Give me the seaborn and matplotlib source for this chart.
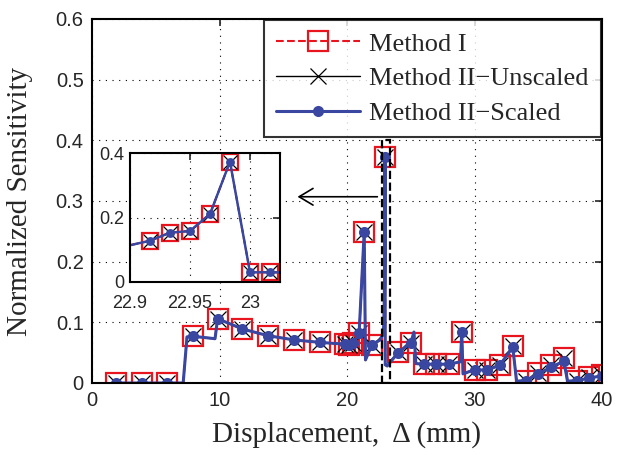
import numpy as np
import pandas as pd
import matplotlib
matplotlib.use('Agg')
import matplotlib.pyplot as plt
from matplotlib.lines import Line2D
from matplotlib.patches import Rectangle
import seaborn as sns

# Marked sample points in the main axes
pt_x = [1.9, 3.9, 5.9, 7.95, 9.85, 11.8, 13.8, 15.85, 17.85, 19.85, 20.15, 20.5,
        20.95, 21.35, 21.95, 22.9833, 24.0, 25.0, 26.0, 27.0, 28.0, 29.0, 30.0,
        31.0, 32.0, 33.0, 34.0, 35.0, 36.0, 37.0, 38.0, 39.0, 40.0]
method1_y = [0.0, 0.0, 0.0, 0.077, 0.106, 0.089, 0.078, 0.071, 0.067, 0.064, 0.062, 0.066,
             0.082, 0.249, 0.063, 0.373, 0.051, 0.066, 0.031, 0.031, 0.031, 0.084, 0.022,
             0.021, 0.030, 0.061, 0.004, 0.017, 0.030, 0.042, 0.004, 0.010, 0.014]
unscaled_y = method1_y
scaled_y = [0.0, 0.0, 0.0, 0.077, 0.106, 0.089, 0.078, 0.071, 0.067, 0.064, 0.062, 0.066,
            0.082, 0.249, 0.063, 0.373, 0.050, 0.066, 0.031, 0.031, 0.031, 0.084, 0.022,
            0.021, 0.030, 0.059, 0.004, 0.015, 0.026, 0.036, 0.004, 0.008, 0.012]

# Marked points in the zoomed inset
inset_x = [22.9167, 22.9333, 22.95, 22.9667, 22.9833, 23.0, 23.0167]
inset_y = [0.128, 0.153, 0.158, 0.211, 0.373, 0.030, 0.030]

# Finer sampled curve (line only)
line_x = [1.9, 3.9, 5.9, 7.15, 7.45, 7.95, 9.65, 9.85, 11.8, 13.8, 15.85, 17.85, 19.85,
          20.15, 20.5, 20.95, 21.35, 21.45, 21.95, 22.6, 22.85, 22.8833, 22.9167,
          22.9333, 22.95, 22.9667, 22.9833, 23.0, 23.0167, 23.15, 24.0, 25.0, 25.25,
          25.4, 26.0, 27.0, 28.0, 28.9, 29.0, 29.1, 30.0, 31.0, 32.0, 33.0, 33.3,
          34.0, 35.0, 36.0, 37.0, 37.3, 38.0, 39.0, 40.0]
line_y = [0.0, 0.0, 0.0, 0.0, 0.076, 0.077, 0.073, 0.106, 0.089, 0.078, 0.071, 0.067, 0.064,
          0.062, 0.066, 0.082, 0.249, 0.038, 0.063, 0.071, 0.082, 0.100, 0.128,
          0.153, 0.158, 0.211, 0.373, 0.030, 0.030, 0.028, 0.050, 0.066, 0.084,
          0.032, 0.031, 0.031, 0.031, 0.035, 0.084, 0.015, 0.022, 0.021, 0.030, 0.059, 0.003,
          0.004, 0.015, 0.026, 0.036, 0.003, 0.004, 0.008, 0.012]

x_ticks = [0, 10, 20, 30, 40]
y_ticks = [0, 0.1, 0.2, 0.3, 0.4, 0.5, 0.6]
y_tick_labels = ['0', '0.1', '0.2', '0.3', '0.4', '0.5', '0.6']
inset_x_ticks = [22.9, 22.95, 23.0]
inset_x_labels = ['22.9', '22.95', '23']
inset_y_ticks = [0, 0.2, 0.4]
inset_y_labels = ['0', '0.2', '0.4']

RED = '#e8141e'
BLUE = '#3a47a0'
SERIF = 'Liberation Serif'

sns.set_style('white')
plt.rcParams['font.family'] = ['Liberation Sans', 'DejaVu Sans']
plt.rcParams['axes.linewidth'] = 1.5

df_line = pd.DataFrame({'x': line_x, 'y': line_y})
df_pts = pd.DataFrame({'x': pt_x, 'm1': method1_y, 'un': unscaled_y, 'sc': scaled_y})
df_in = pd.DataFrame({'x': inset_x, 'm1': inset_y, 'un': inset_y, 'sc': inset_y})


def draw_series(ax, pts, s=1.0):
    # lines (Method I and unscaled sit under the scaled curve)
    sns.lineplot(data=df_line, x='x', y='y', ax=ax, color=RED, lw=1.5, ls='--',
                 estimator=None, sort=False)
    sns.lineplot(data=df_line, x='x', y='y', ax=ax, color='black', lw=1.0,
                 estimator=None, sort=False)
    # markers
    sns.lineplot(data=pts, x='x', y='m1', ax=ax, color=RED, lw=0,
                 marker='s', markersize=15 * s, markerfacecolor='none',
                 markeredgecolor=RED, markeredgewidth=1.6, estimator=None, sort=False)
    sns.lineplot(data=pts, x='x', y='un', ax=ax, color='black', lw=0,
                 marker='x', markersize=12 * s, markeredgewidth=0.9,
                 markeredgecolor='black', estimator=None, sort=False)
    sns.lineplot(data=df_line, x='x', y='y', ax=ax, color=BLUE, lw=2.2 * s,
                 estimator=None, sort=False)
    sns.lineplot(data=pts, x='x', y='sc', ax=ax, color=BLUE, lw=0,
                 marker='o', markersize=8 * s, markeredgewidth=0,
                 estimator=None, sort=False)


def style_axes(ax, fs):
    ax.grid(True, color='black', ls=(0, (1, 5)), lw=0.8)
    ax.set_axisbelow(True)
    ax.tick_params(direction='in', top=True, right=True, length=5, width=1.2,
                   labelsize=fs, pad=6)
    for sp in ax.spines.values():
        sp.set_color('black')
        sp.set_linewidth(1.5)
    ax.set_xlabel('')
    ax.set_ylabel('')


fig = plt.figure(figsize=(6.18, 4.55), dpi=100)
ax = fig.add_axes([92 / 618, 1 - 383 / 455, 510 / 618, 364 / 455])
draw_series(ax, df_pts)
ax.set_xlim(0, 40)
ax.set_ylim(0, 0.6)
ax.set_xticks(x_ticks)
ax.set_xticklabels([str(t) for t in x_ticks])
ax.set_yticks(y_ticks)
ax.set_yticklabels(y_tick_labels)
style_axes(ax, 14.5)
ax.set_xlabel('Displacement,  \u0394 (mm)', fontfamily=SERIF, fontsize=21, labelpad=8)
ax.set_ylabel('Normalized Sensitivity', fontfamily=SERIF, fontsize=21)
ax.yaxis.set_label_coords(-0.115, 0.5)

# zoom rectangle and arrow
ax.add_patch(Rectangle((22.72, 0), 0.65, 0.4, fill=False, ls='--', lw=1.6,
                       edgecolor='black', zorder=5))
ax.annotate('', xy=(15.9, 0.307), xytext=(22.6, 0.307),
            arrowprops=dict(arrowstyle='->, head_length=0.5, head_width=0.3',
                            lw=1.2, color='black', mutation_scale=20))

handles = [
    Line2D([], [], color=RED, ls='--', lw=1.5, marker='s', markersize=15,
           markerfacecolor='none', markeredgecolor=RED, markeredgewidth=1.6),
    Line2D([], [], color='black', lw=1.0, marker='x', markersize=12,
           markeredgewidth=0.9),
    Line2D([], [], color=BLUE, lw=2.2, marker='o', markersize=8, markeredgewidth=0),
]
leg = ax.legend(handles, ['Method I', 'Method II\u2212Unscaled', 'Method II\u2212Scaled'],
                loc='upper right', borderaxespad=0.05, frameon=True, fancybox=False,
                handlelength=3.2, handletextpad=0.35, labelspacing=0.42, borderpad=0.45,
                prop={'family': SERIF, 'size': 19})
leg.get_frame().set_edgecolor('black')
leg.get_frame().set_linewidth(1.5)

# inset
axin = fig.add_axes([130 / 618, 1 - 282 / 455, 150 / 618, 129 / 455])
axin.set_facecolor('white')
draw_series(axin, df_in, s=0.8)
axin.set_xlim(22.9, 23.025)
axin.set_ylim(0, 0.4)
axin.set_xticks(inset_x_ticks)
axin.set_xticklabels(inset_x_labels)
axin.set_yticks(inset_y_ticks)
axin.set_yticklabels(inset_y_labels)
style_axes(axin, 13)
axin.tick_params(axis='x', pad=9)
axin.tick_params(axis='y', pad=4)

fig.savefig('out.png', dpi=100)
